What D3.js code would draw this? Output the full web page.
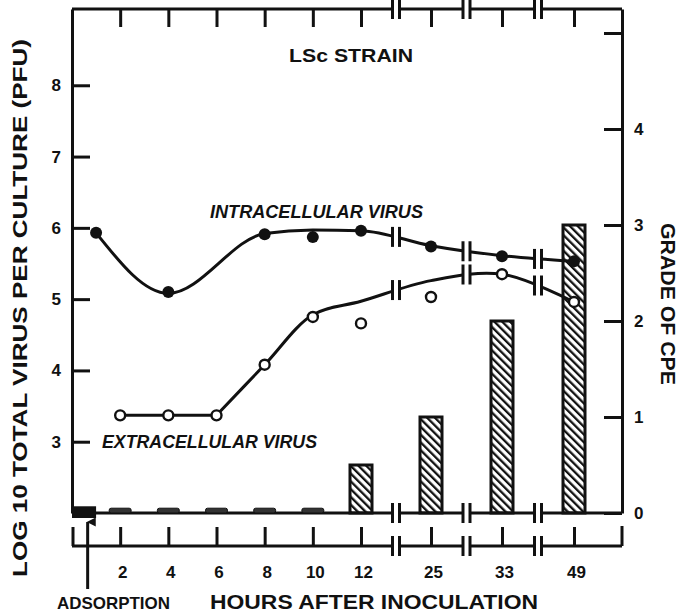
<!DOCTYPE html>
<html>
<head>
<meta charset="utf-8">
<script src="https://cdn.jsdelivr.net/npm/d3@7"></script>
<style>
  body { margin: 0; background: #fff; }
  text { font-family: "Liberation Sans", Arial, sans-serif; font-weight: bold; fill: #111; }
</style>
</head>
<body>
<div id="container"></div>
<script>
const WIDTH = 687,
  HEIGHT = 615,
  LEFT = 72, RIGHT = 622, TOP = 9, BASE = 513, LOWER_AXIS = 546;

// data
const hourTicks = [2, 4, 6, 8, 10, 12, 25, 33, 49];
const breakHours = [18.5, 29, 41];

const intraHours = [1, 4, 8, 10, 12, 25, 33, 49];
const intraLog = [5.93, 5.10, 5.91, 5.87, 5.96, 5.74, 5.60, 5.53];
const extraHours = [2, 4, 6, 8, 10, 12, 25, 33, 49];
const extraLog = [3.37, 3.37, 3.37, 4.08, 4.75, 4.66, 5.03, 5.35, 4.96];

// hand drawn fit curves
const intraFitHours = [1, 4, 8, 10, 12, 25, 33, 49];
const intraFitLog = [5.93, 5.08, 5.92, 5.97, 5.96, 5.75, 5.61, 5.53];
const extraFlatHours = [2, 4, 6];
const extraFlatLog = [3.37, 3.37, 3.37];
const extraRiseHours = [6, 8, 10, 12, 25, 33, 49];
const extraRiseLog = [3.37, 4.08, 4.78, 4.97, 5.26, 5.35, 4.96];

const cpeHours = [2, 4, 6, 8, 10, 12, 25, 33, 49];
const cpeGrade = [0.05, 0.05, 0.05, 0.05, 0.05, 0.5, 1, 2, 3];
const adsorption = { start: 0, end: 1, grade: 0.07, arrowAt: 0.65 };

const logTicks = [3, 4, 5, 6, 7, 8];
const gradeTicks = [0, 1, 2, 3, 4, 5];

const svg = d3.select("#container")
  .append("svg")
  .attr("width", WIDTH)
  .attr("height", HEIGHT)
  .style("background-color", "#fff");

// Scales
const x = d3.scaleLinear()
  .domain([0, 12, 25, 33, 49])
  .range([LEFT, 361, 431, 502, 574]);

const yL = d3.scaleLinear().domain([2, 9.07]).range([BASE, TOP]);
const yR = d3.scaleLinear().domain([0, 5.25]).range([BASE, TOP]);

const ink = "#111";
const SW = 3;

// hatch
const defs = svg.append("defs");
defs.append("pattern")
  .attr("id", "hatch")
  .attr("patternUnits", "userSpaceOnUse")
  .attr("width", 5.5).attr("height", 5.5)
  .attr("patternTransform", "rotate(-45)")
  .append("rect")
  .attr("x", 0).attr("y", 0).attr("width", 2.3).attr("height", 5.5)
  .attr("fill", ink);
defs.append("marker")
  .attr("id", "arrow")
  .attr("viewBox", "0 0 10 10")
  .attr("refX", 5).attr("refY", 1)
  .attr("markerWidth", 9).attr("markerHeight", 13)
  .attr("markerUnits", "userSpaceOnUse")
  .attr("orient", "auto-start-reverse")
  .append("path")
  .attr("d", "M0,10 L5,0 L10,10 Z")
  .attr("fill", ink);

const tickText = g => g.selectAll("text").attr("font-size", 17).attr("fill", ink)
  .style("font-family", "'Liberation Sans', Arial, sans-serif").style("font-weight", "bold");

// frame lines
const frame = svg.append("g").attr("stroke", ink).attr("stroke-width", SW).attr("fill", "none");
frame.append("line").attr("x1", LEFT).attr("x2", RIGHT).attr("y1", TOP).attr("y2", TOP);
frame.append("line").attr("x1", LEFT).attr("x2", RIGHT).attr("y1", BASE).attr("y2", BASE);
frame.append("line").attr("x1", LEFT).attr("x2", RIGHT).attr("y1", LOWER_AXIS).attr("y2", LOWER_AXIS);
frame.append("line").attr("x1", LEFT + 1).attr("x2", LEFT + 1).attr("y1", LOWER_AXIS).attr("y2", LOWER_AXIS - 19);
frame.append("line").attr("x1", RIGHT).attr("x2", RIGHT).attr("y1", LOWER_AXIS).attr("y2", LOWER_AXIS - 20);

// left axis
svg.append("g")
  .attr("class", "y-axis")
  .attr("transform", `translate(${LEFT},0)`)
  .call(d3.axisLeft(yL).tickValues(logTicks).tickFormat(d3.format("d"))
    .tickSize(-18).tickSizeOuter(0).tickPadding(11))
  .call(g => g.selectAll("path, line").attr("stroke", ink).attr("stroke-width", SW))
  .call(tickText);

// right axis
svg.append("g")
  .attr("class", "y-axis-right")
  .attr("transform", `translate(${RIGHT},0)`)
  .call(d3.axisRight(yR).tickValues(gradeTicks).tickSize(-18).tickSizeOuter(0).tickPadding(12)
    .tickFormat(d => d === 5 ? "" : d))
  .call(g => g.selectAll("path, line").attr("stroke", ink).attr("stroke-width", SW))
  .call(tickText);

// top ticks
svg.append("g")
  .attr("class", "x-axis-top")
  .attr("transform", `translate(0,${TOP})`)
  .call(d3.axisTop(x).tickValues(hourTicks).tickSize(-18).tickFormat(""))
  .call(g => g.select(".domain").remove())
  .call(g => g.selectAll("line").attr("stroke", ink).attr("stroke-width", SW));

// lower time axis
svg.append("g")
  .attr("class", "x-axis")
  .attr("transform", `translate(0,${LOWER_AXIS})`)
  .call(d3.axisBottom(x).tickValues(hourTicks).tickSize(-19).tickPadding(20))
  .call(g => g.select(".domain").remove())
  .call(g => g.selectAll("line").attr("stroke", ink).attr("stroke-width", SW))
  .call(tickText)
  .call(g => g.selectAll("text").attr("dx", 2));

// bars
svg.selectAll(".bar")
  .data(cpeHours.map((h, i) => ({ h, g: cpeGrade[i] })))
  .join("rect")
  .attr("class", "bar")
  .attr("x", d => x(d.h) - 11)
  .attr("width", 22)
  .attr("y", d => yR(d.g))
  .attr("height", d => yR(0) - yR(d.g))
  .attr("rx", d => d.g < 0.2 ? 2 : 0)
  .attr("fill", d => d.g < 0.2 ? "#333" : "url(#hatch)")
  .attr("stroke", ink)
  .attr("stroke-width", d => d.g < 0.2 ? 1 : SW);

svg.append("rect")
  .attr("x", x(adsorption.start))
  .attr("width", x(adsorption.end) - x(adsorption.start))
  .attr("y", yR(adsorption.grade))
  .attr("height", yR(0) - yR(adsorption.grade) + 5)
  .attr("fill", ink);

svg.append("line")
  .attr("x1", x(adsorption.arrowAt)).attr("x2", x(adsorption.arrowAt))
  .attr("y1", 589).attr("y2", 522)
  .attr("stroke", ink).attr("stroke-width", SW)
  .attr("marker-end", "url(#arrow)");

// curves
const intraLine = d3.line().x(d => x(d[0])).y(d => yL(d[1])).curve(d3.curveMonotoneX);
const flatLine = d3.line().x(d => x(d[0])).y(d => yL(d[1]));
const riseLine = d3.line().x(d => x(d[0])).y(d => yL(d[1])).curve(d3.curveCatmullRom.alpha(0.5));
const intraPath = svg.append("path")
  .datum(intraFitHours.map((h, i) => [h, intraFitLog[i]]))
  .attr("d", intraLine).attr("fill", "none").attr("stroke", ink).attr("stroke-width", SW);
svg.append("path")
  .datum(extraFlatHours.map((h, i) => [h, extraFlatLog[i]]))
  .attr("d", flatLine).attr("fill", "none").attr("stroke", ink).attr("stroke-width", SW);
const extraPath = svg.append("path")
  .datum(extraRiseHours.map((h, i) => [h, extraRiseLog[i]]))
  .attr("d", riseLine).attr("fill", "none").attr("stroke", ink).attr("stroke-width", SW);

function yAtX(node, px) {
  let lo = 0, hi = node.getTotalLength();
  for (let k = 0; k < 40; k++) {
    const mid = (lo + hi) / 2;
    if (node.getPointAtLength(mid).x < px) lo = mid; else hi = mid;
  }
  return node.getPointAtLength(lo).y;
}

function breakMark(px, py, h) {
  const g = svg.append("g");
  g.append("rect").attr("x", px - 2.5).attr("y", py - 5).attr("width", 5).attr("height", 10).attr("fill", "#fff");
  [-3.5, 3.5].forEach(o => g.append("line")
    .attr("x1", px + o).attr("x2", px + o)
    .attr("y1", py - h / 2).attr("y2", py + h / 2)
    .attr("stroke", ink).attr("stroke-width", SW));
}

breakHours.forEach(b => {
  const px = x(b);
  breakMark(px, TOP, 20);
  breakMark(px, BASE, 20);
  breakMark(px, LOWER_AXIS, 20);
  breakMark(px, yAtX(intraPath.node(), px), 20);
  breakMark(px, yAtX(extraPath.node(), px), 20);
});

// points
svg.selectAll(".intra")
  .data(intraHours.map((h, i) => [h, intraLog[i]]))
  .join("circle")
  .attr("class", "intra")
  .attr("cx", d => x(d[0])).attr("cy", d => yL(d[1]))
  .attr("r", 6).attr("fill", ink);

svg.selectAll(".extra")
  .data(extraHours.map((h, i) => [h, extraLog[i]]))
  .join("circle")
  .attr("class", "extra")
  .attr("cx", d => x(d[0])).attr("cy", d => yL(d[1]))
  .attr("r", 5).attr("fill", "#fff").attr("stroke", ink).attr("stroke-width", 2.4);

// labels
function label(txt, tx, ty, size, len, opts = {}) {
  const t = svg.append("text")
    .attr("x", tx).attr("y", ty)
    .attr("font-size", size)
    .attr("text-anchor", opts.anchor || "start")
    .attr("dominant-baseline", "central")
    .text(txt);
  if (len) t.attr("textLength", len).attr("lengthAdjust", "spacingAndGlyphs");
  if (opts.italic) t.style("font-style", "italic");
  if (opts.rotate) t.attr("transform", `rotate(${opts.rotate},${tx},${ty})`);
  return t;
}

label("LSc  STRAIN", 289, 55, 19, 124);
label("INTRACELLULAR  VIRUS", 210, 212, 18, 213, { italic: true });
label("EXTRACELLULAR  VIRUS", 102, 442, 18, 215, { italic: true });
label("ADSORPTION", 57, 603, 17, 113);
label("HOURS  AFTER  INOCULATION", 210, 602, 20, 328);
label("LOG 10  TOTAL  VIRUS  PER  CULTURE  (PFU)", 19, 308, 21, 538, { anchor: "middle", rotate: -90 });
label("GRADE  OF  CPE", 668, 304, 20, 162, { anchor: "middle", rotate: 90 });
</script>
</body>
</html>
